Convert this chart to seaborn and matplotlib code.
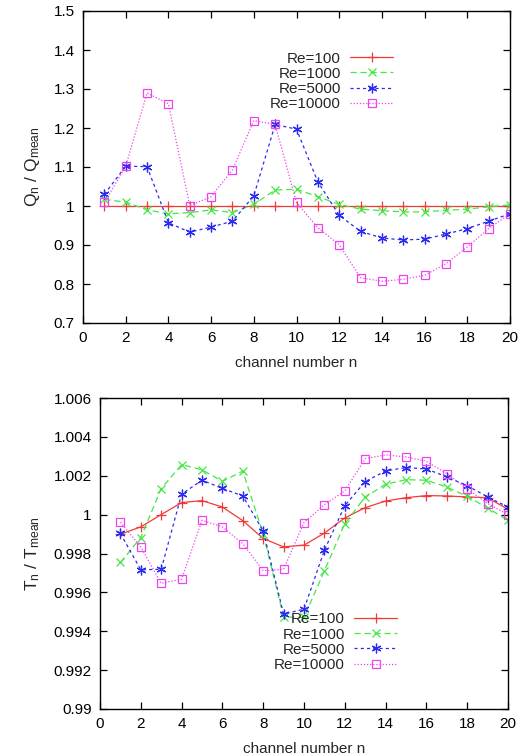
import numpy as np
import pandas as pd
import matplotlib
matplotlib.use("Agg")
import matplotlib.pyplot as plt
from matplotlib.ticker import FixedLocator, FormatStrFormatter
import seaborn as sns

channels = list(range(1, 21))
labels = ["Re=100", "Re=1000", "Re=5000", "Re=10000"]

q_re100 = [1.0] * 20
q_re1000 = [1.017, 1.010, 0.990, 0.980, 0.983, 0.990, 0.983, 1.004, 1.041, 1.043,
            1.024, 1.004, 0.992, 0.988, 0.985, 0.985, 0.989, 0.992, 0.998, 1.003]
q_re5000 = [1.030, 1.102, 1.101, 0.957, 0.933, 0.946, 0.961, 1.026, 1.209, 1.197,
            1.062, 0.976, 0.935, 0.918, 0.913, 0.915, 0.928, 0.942, 0.961, 0.980]
q_re10000 = [1.009, 1.102, 1.290, 1.262, 1.001, 1.024, 1.093, 1.219, 1.209, 1.009,
             0.944, 0.901, 0.816, 0.807, 0.812, 0.822, 0.852, 0.895, 0.942, 0.980]

t_re100 = [0.99899, 0.99937, 1.00000, 1.00062, 1.00072, 1.00039, 0.99969, 0.99877, 0.99834, 0.99843,
           0.99905, 0.99983, 1.00036, 1.00070, 1.00087, 1.00098, 1.00096, 1.00091, 1.00087, 1.00027]
t_re1000 = [0.99754, 0.99882, 1.00134, 1.00257, 1.00231, 1.00171, 1.00224, 0.99900, 0.99474, 0.99471,
            0.99711, 0.99954, 1.00091, 1.00156, 1.00180, 1.00177, 1.00142, 1.00094, 1.00034, 0.99971]
t_re5000 = [0.99903, 0.99716, 0.99719, 1.00105, 1.00177, 1.00135, 1.00096, 0.99916, 0.99488, 0.99514,
            0.99817, 1.00046, 1.00170, 1.00225, 1.00242, 1.00235, 1.00194, 1.00149, 1.00091, 1.00039]
t_re10000 = [0.99961, 0.99834, 0.99646, 0.99668, 0.99971, 0.99937, 0.99851, 0.99711, 0.99719, 0.99959,
             1.00051, 1.00122, 1.00288, 1.00307, 1.00297, 1.00274, 1.00211, 1.00132, 1.00057, 1.00000]

q_ticks = [0.7, 0.8, 0.9, 1.0, 1.1, 1.2, 1.3, 1.4, 1.5]
t_ticks = [0.99, 0.992, 0.994, 0.996, 0.998, 1.0, 1.002, 1.004, 1.006]
x_ticks = [0, 2, 4, 6, 8, 10, 12, 14, 16, 18, 20]

sns.set_style("ticks")
plt.rcParams["font.family"] = ["Liberation Sans", "DejaVu Sans"]
plt.rcParams["mathtext.fontset"] = "custom"
plt.rcParams["mathtext.rm"] = "Liberation Sans"
plt.rcParams["mathtext.it"] = "Liberation Sans"

colors = ["#f03a3a", "#44e844", "#2a2af0", "#ee44ee"]
markers = ["+", "x", (6, 2, 0), "s"]
dashes = ["-", (0, (5, 3)), (0, (2.5, 2.5)), (0, (1, 1.5))]
msizes = [7, 6, 7, 6]

fig = plt.figure(figsize=(5.28, 7.56), dpi=100)
ax1 = fig.add_axes([83/528, 1 - 323/756, 427/528, 312/756])
ax2 = fig.add_axes([100/528, 1 - 709/756, 408/528, 311/756])

def draw(ax, series, ylim, yticks, ylabel, leg_anchor):
    for vals, lab, c, m, ls, ms in zip(series, labels, colors, markers, dashes, msizes):
        df = pd.DataFrame({"n": channels, "v": vals})
        sns.lineplot(data=df, x="n", y="v", ax=ax, color=c, marker=m, linestyle=ls,
                     linewidth=0.9, markersize=ms, markeredgewidth=0.9,
                     markerfacecolor="none" if m == "s" else c, markeredgecolor=c,
                     label=lab)
    ax.set_xlim(0, 20)
    ax.set_ylim(*ylim)
    ax.xaxis.set_major_locator(FixedLocator(x_ticks))
    ax.yaxis.set_major_locator(FixedLocator(yticks))
    ax.yaxis.set_major_formatter(FormatStrFormatter("%g"))
    ax.tick_params(direction="in", top=True, right=True, length=5, width=0.9,
                   labelsize=11, pad=6, colors="black")
    for s in ax.spines.values():
        s.set_color("black")
        s.set_linewidth(1.0)
    ax.set_xlabel("channel number n", fontsize=11, labelpad=8)
    ax.set_ylabel(ylabel, fontsize=12.5, labelpad=8)
    ax.legend(loc="upper right", bbox_to_anchor=leg_anchor, frameon=False,
              markerfirst=False, fontsize=11, handlelength=2.8, handletextpad=0.6,
              labelspacing=0.08, borderpad=0, borderaxespad=0)

draw(ax1, [q_re100, q_re1000, q_re5000, q_re10000], (0.7, 1.5), q_ticks,
     r"Q$_\mathregular{n}$ / Q$_\mathregular{mean}$", (0.726, 0.870))
draw(ax2, [t_re100, t_re1000, t_re5000, t_re10000], (0.99, 1.006), t_ticks,
     r"T$_\mathregular{n}$ / T$_\mathregular{mean}$", (0.728, 0.311))

fig.savefig("out.png", dpi=100)
